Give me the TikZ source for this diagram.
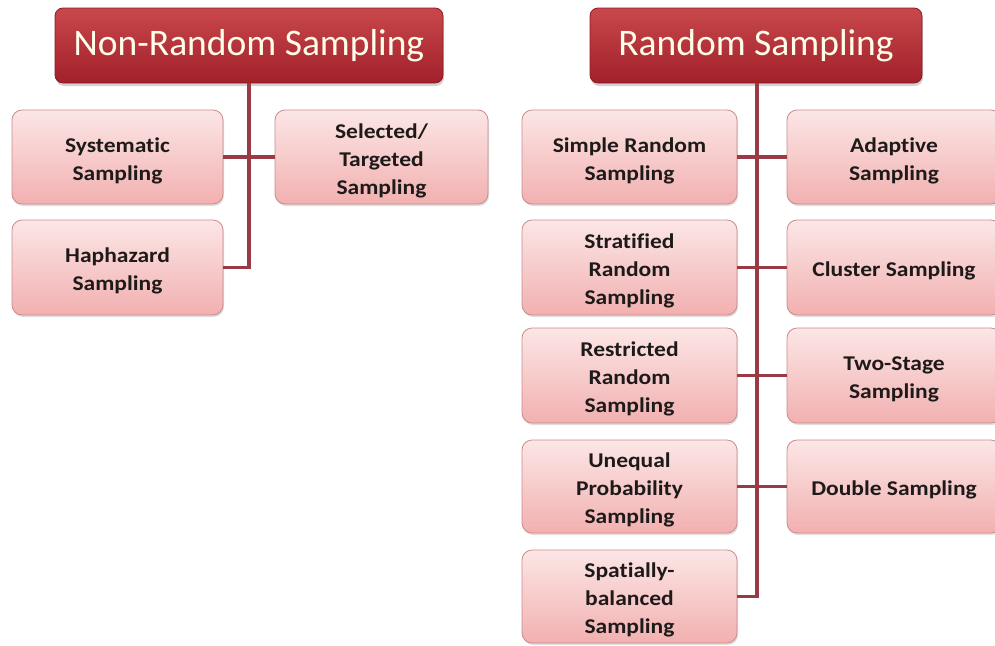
\documentclass[tikz,border=0pt]{standalone}
\usepackage{fontspec}
\setmainfont[Ligatures=NoCommon]{Carlito}
\newfontfamily\boxfont[FakeStretch=1.12,Ligatures=NoCommon]{Carlito}
\usetikzlibrary{shadows}
\newcommand\fl{\rule{0pt}{22pt}}
\definecolor{hdtop}{HTML}{C9484C}
\definecolor{hdbot}{HTML}{A1202A}
\definecolor{hdline}{HTML}{8E1A22}
\definecolor{bxtop}{HTML}{FCE6E6}
\definecolor{bxbot}{HTML}{F2B0B0}
\definecolor{bxline}{HTML}{C98C8C}
\definecolor{conn}{HTML}{9A3A44}
\definecolor{txt}{HTML}{1E1A1A}
\tikzset{
  header/.style={draw=hdline, line width=0.8pt, rounded corners=8pt, top color=hdtop, bottom color=hdbot,
    text=white!92!yellow, font=\fontsize{37.5}{44}\selectfont, inner sep=0pt,
    drop shadow={opacity=0.35, shadow xshift=1pt, shadow yshift=-3pt}},
  item/.style={draw=bxline, line width=0.8pt, rounded corners=10pt, top color=bxtop, bottom color=bxbot,
    text=txt, font=\boxfont\bfseries\fontsize{21}{28}\selectfont, align=center, inner sep=0pt,
    drop shadow={opacity=0.25, shadow xshift=1pt, shadow yshift=-2pt}},
  link/.style={draw=conn, line width=3.2pt}
}
\begin{document}
\begin{tikzpicture}[x=1pt,y=-1pt]
\useasboundingbox (0,0) rectangle (995,645);
% headers
\node[header, minimum width=388pt, minimum height=75pt] (nr) at (249,45.5) {Non-Random Sampling};
\node[header, minimum width=332pt, minimum height=75pt] (rs) at (756,45.5) {Random Sampling};
% non-random items
\node[item, minimum width=211pt, minimum height=94pt] (sys) at (117.5,157) {\fl Systematic\\Sampling};
\node[item, minimum width=213pt, minimum height=94pt] (sel) at (381.5,157) {\fl Selected/\\Targeted\\Sampling};
\node[item, minimum width=211pt, minimum height=95pt] (hap) at (117.5,267.5) {\fl Haphazard\\Sampling};
% random items left
\node[item, minimum width=215pt, minimum height=94pt] (srs) at (629.5,157) {\fl Simple Random\\Sampling};
\node[item, minimum width=215pt, minimum height=95pt] (str) at (629.5,267.5) {\fl Stratified\\Random\\Sampling};
\node[item, minimum width=215pt, minimum height=95pt] (res) at (629.5,375.5) {\fl Restricted\\Random\\Sampling};
\node[item, minimum width=215pt, minimum height=93pt] (uneq) at (629.5,486.5) {\fl Unequal\\Probability\\Sampling};
\node[item, minimum width=215pt, minimum height=93pt] (spat) at (629.5,596.5) {\fl Spatially-\\balanced\\Sampling};
% random items right
\node[item, minimum width=214pt, minimum height=94pt] (adp) at (894,157) {\fl Adaptive\\Sampling};
\node[item, minimum width=214pt, minimum height=95pt] (clu) at (894,267.5) {\fl Cluster Sampling};
\node[item, minimum width=214pt, minimum height=95pt] (two) at (894,375.5) {\fl Two-Stage\\Sampling};
\node[item, minimum width=214pt, minimum height=93pt] (dbl) at (894,486.5) {\fl Double Sampling};
% connectors
\draw[link] (nr.south) -- (nr.south |- hap.east) -- (hap.east);
\draw[link] (sys.east) -- (sel.west);
\coordinate (rtr) at ([xshift=1pt]rs.south);
\draw[link] (rtr) -- (rtr |- spat.east) -- (spat.east);
\draw[link] (srs.east) -- (adp.west);
\draw[link] (str.east) -- (clu.west);
\draw[link] (res.east) -- (two.west);
\draw[link] (uneq.east) -- (dbl.west);
\end{tikzpicture}
\end{document}
